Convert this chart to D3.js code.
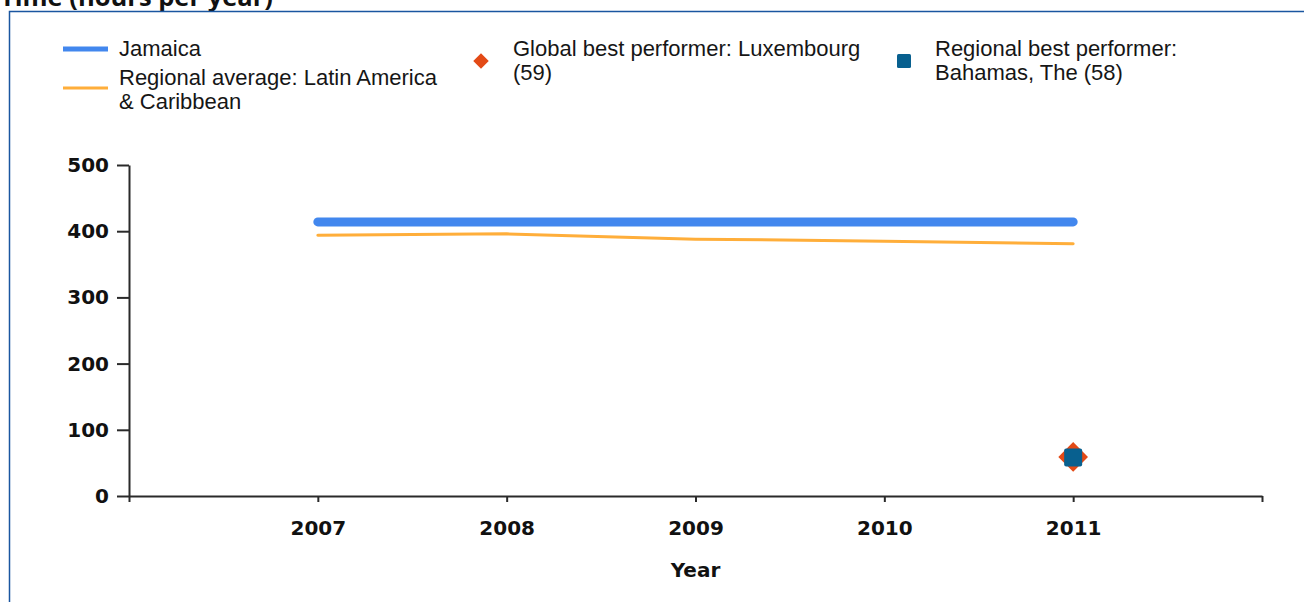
<!DOCTYPE html>
<html>
<head>
<meta charset="utf-8">
<script src="https://cdn.jsdelivr.net/npm/d3@7"></script>
<style>
  html, body { margin: 0; padding: 0; background: #fff; overflow: hidden; }
  svg { display: block; }
</style>
</head>
<body>
<svg id="chart" width="1304" height="602"></svg>
<script>
// Time required (hours per year): Jamaica vs. regional average and best performers
const years = [2007, 2008, 2009, 2010, 2011];
const jamaica = [414, 414, 414, 414, 414];
const regionalAvg = [394, 396, 388, 385, 381];
const globalBest = { year: 2011, value: 59 };
const regionalBest = { year: 2011, value: 58 };
const yTicks = [0, 100, 200, 300, 400, 500];
const xTicks = [2006, 2007, 2008, 2009, 2010, 2011, 2012];
const xTickLabels = ["", "2007", "2008", "2009", "2010", "2011", ""];

const titleText = "Time (hours per year)";
const legendItems = [
  { kind: "line", color: "#4287ee", width: 5, x: 63, y: 49, tx: 119, lines: ["Jamaica"] },
  { kind: "line", color: "#ffae3a", width: 3, x: 63, y: 88, tx: 119, lines: ["Regional average: Latin America", "& Caribbean"] },
  { kind: "diamond", color: "#e34a16", x: 481, y: 61, tx: 513, lines: ["Global best performer: Luxembourg", "(59)"] },
  { kind: "square", color: "#08608f", x: 904, y: 61, tx: 935, lines: ["Regional best performer:", "Bahamas, The (58)"] }
];

const svg = d3.select("#chart");
svg.append("rect").attr("width", 1304).attr("height", 602).attr("fill", "#fff");

// Title, partly above the top edge of the frame
const title = svg.append("text")
  .attr("x", 0).attr("y", 6)
  .attr("font-family", "'Open Sans', sans-serif")
  .attr("font-weight", "bold")
  .attr("font-size", 20)
  .attr("fill", "#111")
  .text(titleText);
const tl = title.node().getComputedTextLength();
title.attr("font-size", 20 * 273 / tl);

// Panel frame
svg.append("rect")
  .attr("x", 9.5).attr("y", 11.5)
  .attr("width", 1400).attr("height", 700)
  .attr("fill", "none")
  .attr("stroke", "#1a56a0")
  .attr("stroke-width", 1.5);

// Legend
const legend = svg.append("g").attr("class", "legend");
legendItems.forEach(item => {
  const g = legend.append("g");
  if (item.kind === "line") {
    g.append("line")
      .attr("x1", item.x).attr("x2", item.x + 45)
      .attr("y1", item.y).attr("y2", item.y)
      .attr("stroke", item.color).attr("stroke-width", item.width);
  } else if (item.kind === "diamond") {
    g.append("rect")
      .attr("x", -5.5).attr("y", -5.5).attr("width", 11).attr("height", 11)
      .attr("transform", `translate(${item.x},${item.y}) rotate(45)`)
      .attr("fill", item.color);
  } else {
    g.append("rect")
      .attr("x", item.x - 7).attr("y", item.y - 7).attr("width", 14).attr("height", 14)
      .attr("rx", 1.5)
      .attr("fill", item.color);
  }
  const t = g.append("text")
    .attr("font-family", "'Liberation Sans', Arial, sans-serif")
    .attr("font-size", 22)
    .attr("fill", "#161616");
  item.lines.forEach((ln, i) => {
    t.append("tspan").attr("x", item.tx).attr("y", 56 + i * 24 + (item.kind === "line" && item.lines.length > 1 ? 29 : 0)).text(ln);
  });
});

// Scales
const x = d3.scaleLinear().domain([2006, 2012]).range([129, 1262]);
const y = d3.scaleLinear().domain([0, 500]).range([496, 165]);

const axisFont = "'DejaVu Sans', Verdana, sans-serif";

// Y axis
const yAxis = svg.append("g")
  .attr("transform", `translate(${x(2006)},0)`)
  .call(d3.axisLeft(y).tickValues(yTicks).tickSize(12).tickSizeOuter(0).tickPadding(8));
yAxis.selectAll("text")
  .attr("font-family", axisFont).attr("font-weight", "bold")
  .attr("font-size", 20).attr("fill", "#111");

// X axis
const xAxis = svg.append("g")
  .attr("transform", `translate(0,${y(0)})`)
  .call(d3.axisBottom(x).tickValues(xTicks).tickSize(6).tickSizeOuter(0)
    .tickFormat((d, i) => xTickLabels[i]));
xAxis.selectAll("text")
  .attr("y", 39).attr("dy", 0)
  .attr("font-family", axisFont).attr("font-weight", "bold")
  .attr("font-size", 20).attr("fill", "#111");

[yAxis, xAxis].forEach(a => {
  a.select(".domain").attr("stroke", "#2a2a2a").attr("stroke-width", 2);
  a.selectAll(".tick line").attr("stroke", "#2a2a2a").attr("stroke-width", 2);
});

// Axis title
svg.append("text")
  .attr("x", (x(2006) + x(2012)) / 2).attr("y", 577)
  .attr("text-anchor", "middle")
  .attr("font-family", axisFont).attr("font-weight", "bold")
  .attr("font-size", 20).attr("fill", "#111")
  .text("Year");

// Series lines
const line = d3.line().x(d => x(d[0])).y(d => y(d[1]));

svg.append("path")
  .datum(years.map((yr, i) => [yr, regionalAvg[i]]))
  .attr("d", line)
  .attr("fill", "none")
  .attr("stroke", "#ffae3a")
  .attr("stroke-width", 3)
  .attr("stroke-linecap", "round");

svg.append("path")
  .datum(years.map((yr, i) => [yr, jamaica[i]]))
  .attr("d", line)
  .attr("fill", "none")
  .attr("stroke", "#4287ee")
  .attr("stroke-width", 9)
  .attr("stroke-linecap", "round");

// Best performer markers
svg.append("rect")
  .attr("x", -10.5).attr("y", -10.5).attr("width", 21).attr("height", 21)
  .attr("transform", `translate(${x(globalBest.year)},${y(globalBest.value)}) rotate(45)`)
  .attr("fill", "#e34a16");

svg.append("rect")
  .attr("x", x(regionalBest.year) - 9).attr("y", y(regionalBest.value) - 9)
  .attr("width", 18).attr("height", 18)
  .attr("rx", 2)
  .attr("fill", "#08608f");
</script>
</body>
</html>
